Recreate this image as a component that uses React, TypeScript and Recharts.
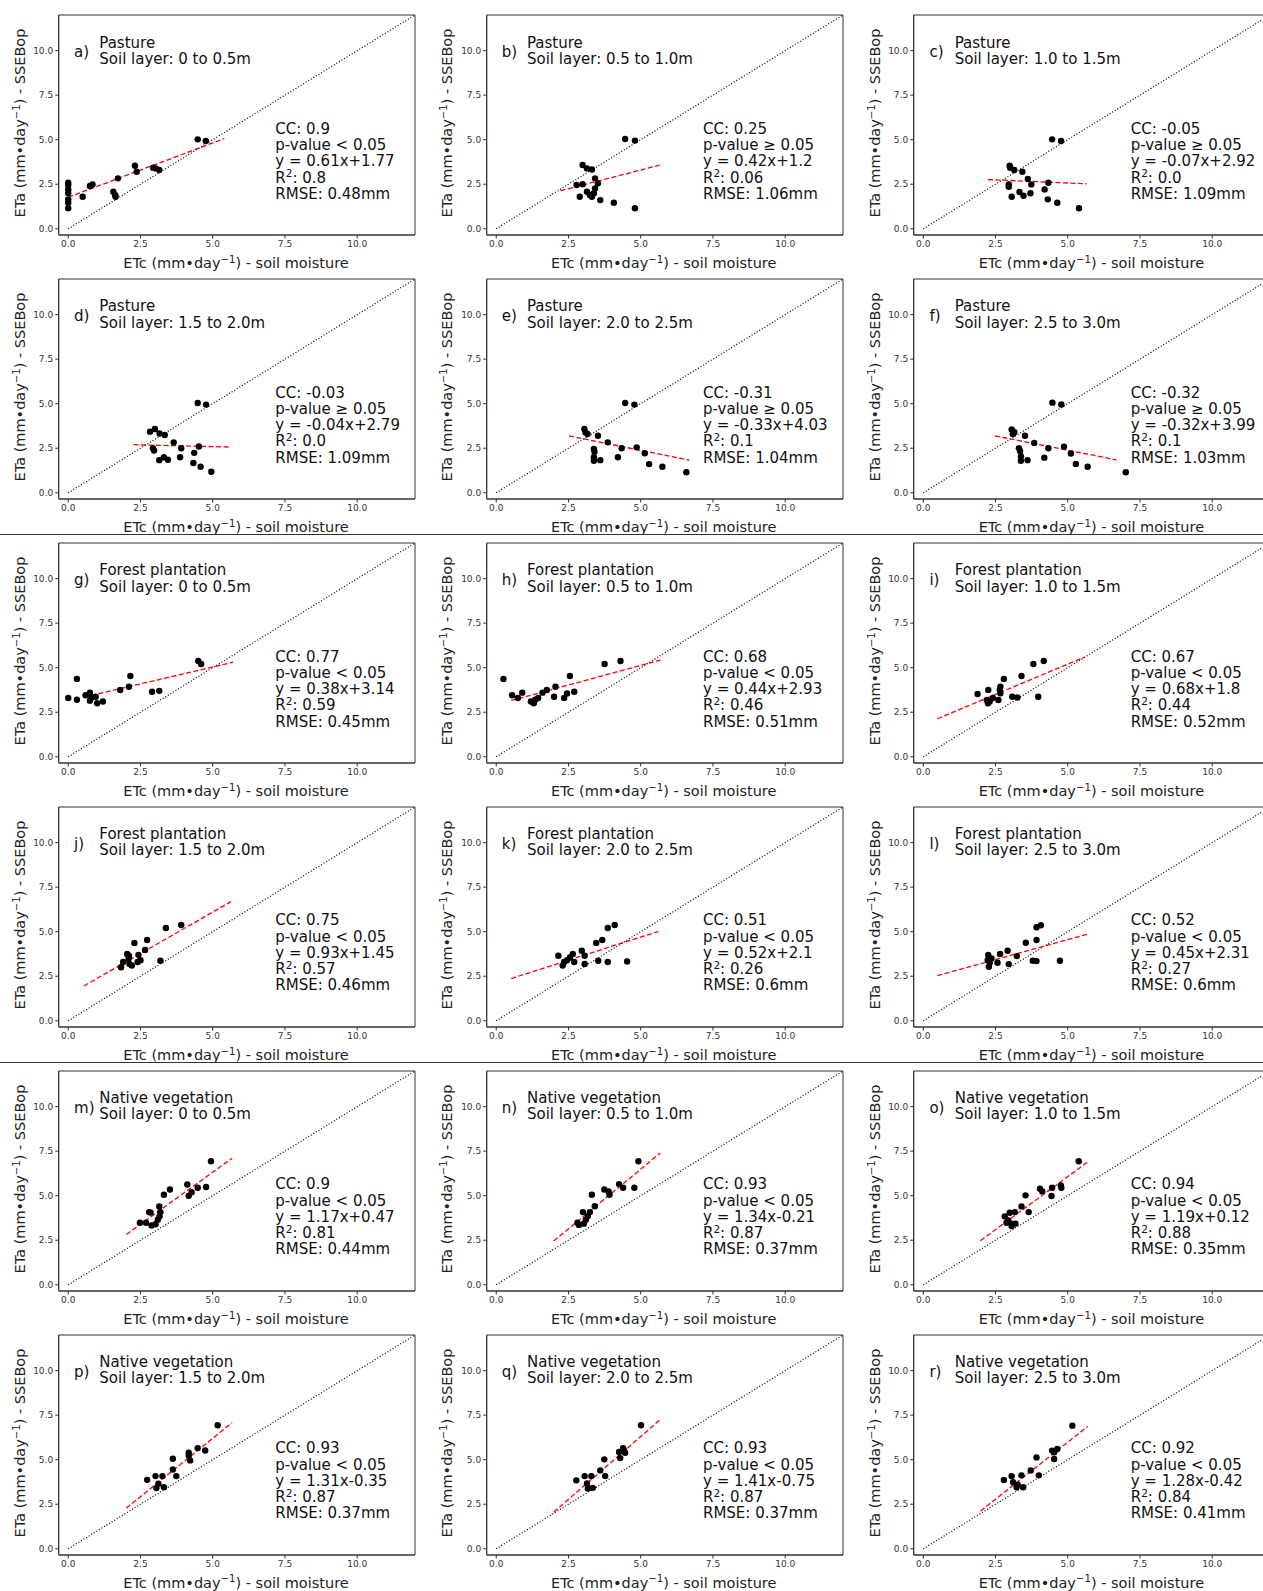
import React from "react";
import { ScatterChart, Scatter, XAxis, YAxis, ReferenceLine, ReferenceArea } from "recharts";

// panel labels
const LETTERS = ["a", "b", "c", "d", "e", "f", "g", "h", "i", "j", "k", "l", "m", "n", "o", "p", "q", "r"];
const COVERS = ["Pasture", "Forest plantation", "Native vegetation"];
const LAYERS = ["0 to 0.5m", "0.5 to 1.0m", "1.0 to 1.5m", "1.5 to 2.0m", "2.0 to 2.5m", "2.5 to 3.0m"];
const TICKS = [0, 2.5, 5, 7.5, 10];

// statistics printed in each panel
const CC = ["0.9", "0.25", "-0.05", "-0.03", "-0.31", "-0.32", "0.77", "0.68", "0.67", "0.75", "0.51", "0.52", "0.9", "0.93", "0.94", "0.93", "0.93", "0.92"];
const SIGNIFICANT = [true, false, false, false, false, false, true, true, true, true, true, true, true, true, true, true, true, true];
const SLOPES = [0.61, 0.42, -0.07, -0.04, -0.33, -0.32, 0.38, 0.44, 0.68, 0.93, 0.52, 0.45, 1.17, 1.34, 1.19, 1.31, 1.41, 1.28];
const INTERCEPTS = [1.77, 1.2, 2.92, 2.79, 4.03, 3.99, 3.14, 2.93, 1.8, 1.45, 2.1, 2.31, 0.47, -0.21, 0.12, -0.35, -0.75, -0.42];
const R2 = ["0.8", "0.06", "0.0", "0.0", "0.1", "0.1", "0.59", "0.46", "0.44", "0.57", "0.26", "0.27", "0.81", "0.87", "0.88", "0.87", "0.87", "0.84"];
const RMSE = ["0.48", "1.06", "1.09", "1.09", "1.04", "1.03", "0.45", "0.51", "0.52", "0.46", "0.6", "0.6", "0.44", "0.37", "0.35", "0.37", "0.37", "0.41"];
// x extent of the fitted line
const FIT_X0 = [0, 2.23, 2.24, 2.26, 2.52, 2.48, 0.54, 0.52, 0.49, 0.54, 0.52, 0.49, 2.01, 1.99, 1.98, 2.01, 1.99, 1.98];
const FIT_X1 = [5.4, 5.65, 5.66, 5.63, 6.68, 6.69, 5.7, 5.68, 5.59, 5.63, 5.61, 5.69, 5.67, 5.68, 5.69, 5.67, 5.68, 5.69];

// [ETc, ETa] pairs
const PA = [[0, 2.58], [0, 2.45], [0, 2.21], [0, 2.0], [0, 1.65], [0, 1.46], [0, 1.15], [0.5, 1.8], [0.75, 2.4], [0.84, 2.49], [1.56, 2.08], [1.62, 1.9], [1.64, 1.8], [1.72, 2.83], [2.31, 3.54], [2.37, 3.2], [2.94, 3.43], [3.03, 3.39], [3.15, 3.3], [4.48, 5.02], [4.76, 4.93]];
const PB = [[4.46, 5.04], [4.8, 4.95], [2.99, 3.58], [3.14, 3.39], [3.31, 3.33], [3.42, 2.83], [2.78, 2.46], [2.99, 2.5], [3.52, 2.55], [3.42, 2.27], [2.89, 1.8], [3.14, 2.08], [3.24, 1.9], [3.38, 2.0], [3.31, 1.8], [3.6, 1.61], [4.07, 1.46], [4.8, 1.15]];
const PC = [[4.46, 5.02], [4.77, 4.93], [2.99, 3.54], [3.01, 3.43], [3.15, 3.3], [3.43, 3.2], [3.62, 2.79], [4.33, 2.58], [3.74, 2.49], [2.96, 2.49], [2.96, 2.36], [3.33, 2.06], [3.06, 1.8], [3.47, 1.85], [3.71, 1.99], [4.2, 2.21], [4.31, 1.65], [4.64, 1.46], [5.39, 1.15]];
const PD = [[4.48, 5.04], [4.77, 4.95], [2.83, 3.43], [3.0, 3.58], [3.16, 3.33], [3.34, 3.24], [3.65, 2.83], [2.93, 2.5], [2.97, 2.37], [3.91, 2.5], [4.52, 2.6], [4.36, 2.24], [3.87, 1.99], [3.15, 1.83], [3.45, 1.85], [3.31, 1.99], [4.33, 1.67], [4.58, 1.46], [4.95, 1.18]];
const PE = [[4.46, 5.04], [4.78, 4.95], [3.05, 3.58], [3.09, 3.39], [3.16, 3.3], [3.52, 3.2], [3.86, 2.83], [3.38, 2.46], [4.34, 2.5], [4.86, 2.55], [5.14, 2.22], [4.21, 1.99], [3.38, 2.0], [3.38, 1.8], [3.6, 1.83], [5.29, 1.61], [5.75, 1.46], [6.58, 1.15], [3.4, 2.3]];
const PF = [[4.47, 5.06], [4.78, 4.96], [3.06, 3.55], [3.15, 3.4], [3.1, 3.3], [3.52, 3.2], [3.84, 2.8], [3.31, 2.5], [3.35, 2.35], [4.33, 2.5], [4.87, 2.58], [5.11, 2.2], [4.19, 1.97], [3.38, 2.05], [3.38, 1.8], [3.61, 1.83], [5.28, 1.62], [5.69, 1.46], [7.01, 1.15]];
const PG = [[0, 3.3], [0.3, 3.2], [0.3, 4.37], [0.6, 3.45], [0.75, 3.6], [0.8, 3.3], [0.75, 3.15], [0.95, 3.37], [1.0, 3.0], [1.2, 3.1], [1.8, 3.75], [2.1, 3.93], [2.15, 4.53], [2.9, 3.65], [3.15, 3.7], [4.5, 5.38], [4.6, 5.21]];
const PH = [[0.25, 4.37], [0.55, 3.45], [0.75, 3.3], [0.9, 3.6], [1.2, 3.1], [1.3, 3.0], [1.35, 3.2], [1.45, 3.3], [1.6, 3.6], [1.75, 3.75], [2.0, 3.37], [2.05, 3.93], [2.35, 3.3], [2.45, 3.55], [2.55, 4.53], [2.7, 3.65], [3.75, 5.21], [4.3, 5.38]];
const PI = [[3.81, 5.21], [4.17, 5.38], [2.79, 4.37], [3.4, 4.53], [2.67, 3.93], [2.65, 3.75], [2.25, 3.75], [1.88, 3.52], [2.2, 3.19], [2.24, 3.0], [2.41, 3.3], [2.6, 3.19], [2.67, 3.56], [3.08, 3.37], [3.26, 3.33], [3.98, 3.37], [2.3, 3.1]];
const PJ = [[3.38, 5.21], [3.91, 5.38], [2.29, 4.37], [2.73, 4.53], [2.66, 3.97], [2.43, 3.7], [2.04, 3.75], [2.1, 3.65], [1.83, 3.0], [1.9, 3.3], [2.12, 3.19], [2.4, 3.3], [2.5, 3.4], [3.19, 3.37], [2.09, 3.5], [2.2, 3.1]];
const PK = [[2.15, 3.65], [2.3, 3.1], [2.35, 3.3], [2.45, 3.4], [2.55, 3.55], [2.65, 3.75], [2.7, 3.3], [2.96, 3.93], [3.06, 3.65], [3.06, 3.19], [3.46, 4.37], [3.67, 4.53], [3.53, 3.37], [3.86, 5.21], [4.1, 5.38], [3.86, 3.3], [4.53, 3.33]];
const PL = [[3.92, 5.25], [4.07, 5.36], [3.55, 4.38], [3.92, 4.53], [2.66, 3.75], [2.92, 3.93], [2.25, 3.69], [3.24, 3.63], [2.23, 3.41], [2.36, 3.5], [2.57, 3.26], [2.27, 3.03], [2.96, 3.18], [3.79, 3.37], [3.92, 3.35], [4.73, 3.37], [2.3, 3.25]];
const PM = [[4.94, 6.93], [3.52, 5.35], [3.31, 5.05], [4.12, 5.63], [4.48, 5.45], [4.77, 5.49], [4.17, 4.99], [4.27, 5.19], [3.15, 4.4], [3.19, 4.08], [3.16, 3.84], [2.8, 4.08], [2.48, 3.48], [2.69, 3.48], [2.88, 3.33], [3.02, 3.4], [3.1, 3.65], [2.85, 4.05]];
const PN = [[4.92, 6.93], [4.39, 5.45], [4.78, 5.45], [4.25, 5.65], [3.74, 5.35], [3.89, 5.24], [3.92, 5.05], [3.31, 5.05], [3.41, 4.41], [3.24, 4.08], [3.17, 3.86], [3.0, 4.08], [2.81, 3.48], [2.86, 3.36], [3.03, 3.43], [3.1, 3.65]];
const PO = [[5.38, 6.93], [4.04, 5.39], [4.12, 5.24], [4.46, 5.45], [4.76, 5.58], [4.78, 5.45], [4.44, 4.98], [3.54, 5.02], [3.4, 4.4], [3.65, 4.08], [2.82, 3.84], [2.99, 4.04], [3.17, 4.08], [2.94, 3.61], [3.06, 3.43], [3.19, 3.43], [2.88, 3.48], [3.06, 3.3]];
const PP = [[5.17, 6.93], [4.17, 5.39], [4.17, 5.24], [4.48, 5.65], [4.74, 5.52], [4.22, 4.96], [3.62, 5.05], [3.62, 4.45], [3.74, 4.08], [2.73, 3.87], [3.02, 4.08], [3.26, 4.08], [3.12, 3.65], [3.05, 3.41], [3.31, 3.46]];
const PQ = [[5.01, 6.93], [4.39, 5.65], [4.25, 5.43], [4.29, 5.09], [4.42, 5.52], [4.46, 5.39], [3.74, 5.02], [3.6, 4.4], [3.77, 4.08], [2.77, 3.84], [3.06, 4.08], [3.29, 4.08], [3.14, 3.66], [3.17, 3.38], [3.34, 3.42]];
const PR = [[5.16, 6.91], [4.46, 5.51], [4.64, 5.6], [4.53, 5.42], [4.53, 5.04], [3.92, 5.13], [3.72, 4.4], [3.4, 4.12], [3.06, 4.08], [2.79, 3.86], [4.0, 4.12], [3.11, 3.73], [3.23, 3.45], [3.46, 3.45], [3.27, 3.6]];

const POINTS = [PA, PB, PC, PD, PE, PF, PG, PH, PI, PJ, PK, PL, PM, PN, PO, PP, PQ, PR];

const COL_W = 427.7;
const ROW_H = 263.9;
const FONT = "'DejaVu Sans', sans-serif";
const X_DOMAIN = [-0.33, 12];
const Y_DOMAIN = [-0.35, 12];

const dot = (p: any) => <circle cx={p.cx} cy={p.cy} r={3.2} fill="#000" />;

// raised small text that stays inside its line box
const Sup = ({ children }: { children: React.ReactNode }) => (
  <span style={{ fontSize: "0.7em", position: "relative", top: "-0.5em", lineHeight: 0 }}>{children}</span>
);

function fmtEq(i: number) {
  const b = INTERCEPTS[i];
  return `y = ${SLOPES[i]}x${b >= 0 ? "+" : ""}${b}`;
}

function Panel({ i }: { i: number }) {
  const col = i % 3;
  const row = Math.floor(i / 3);
  const data = POINTS[i].map(([x, y]) => ({ x, y }));
  const fit = [
    { x: FIT_X0[i], y: SLOPES[i] * FIT_X0[i] + INTERCEPTS[i] },
    { x: FIT_X1[i], y: SLOPES[i] * FIT_X1[i] + INTERCEPTS[i] },
  ];
  const tick = { fontSize: 9, fill: "#333", fontFamily: FONT };
  return (
    <div style={{ position: "absolute", left: col * COL_W, top: row * ROW_H, width: 428, height: 264 }}>
      <ScatterChart width={428} height={264} margin={{ top: 15, right: 13, bottom: 9, left: 18.7 }}>
        <XAxis type="number" dataKey="x" domain={X_DOMAIN} ticks={TICKS} allowDataOverflow
          tickFormatter={(v: number) => v.toFixed(1)} tick={tick} tickSize={3.5} height={20}
          stroke="#333" interval={0} />
        <YAxis type="number" dataKey="y" domain={Y_DOMAIN} ticks={TICKS} allowDataOverflow
          tickFormatter={(v: number) => v.toFixed(1)} tick={tick} tickSize={3.5} width={40}
          stroke="#333" interval={0} />
        <ReferenceArea x1={X_DOMAIN[0]} x2={X_DOMAIN[1]} y1={Y_DOMAIN[0]} y2={Y_DOMAIN[1]}
          fill="none" stroke="#333" strokeWidth={1} />
        <ReferenceLine segment={[{ x: 0, y: 0 }, { x: 12, y: 12 }]} stroke="#000" strokeWidth={1.2}
          strokeDasharray="1 2" />
        <ReferenceLine segment={fit} stroke="#ff0000" strokeWidth={1.3} strokeDasharray="5 2.5" />
        <Scatter data={data} shape={dot} isAnimationActive={false} />
      </ScatterChart>
      <div style={{ position: "absolute", left: 74, top: 44, fontSize: 15, lineHeight: "16.3px", color: "#111" }}>
        {LETTERS[i]})
      </div>
      <div style={{ position: "absolute", left: 99.3, top: 34.5, fontSize: 15, lineHeight: "16.3px", color: "#111", whiteSpace: "nowrap" }}>
        <div>{COVERS[Math.floor(i / 6)]}</div>
        <div>Soil layer: {LAYERS[i % 6]}</div>
      </div>
      <div style={{ position: "absolute", left: 275.3, top: 120.8, fontSize: 15, lineHeight: "16.25px", color: "#111", whiteSpace: "nowrap" }}>
        <div>CC: {CC[i]}</div>
        <div>p-value {SIGNIFICANT[i] ? "<" : "≥"} 0.05</div>
        <div>{fmtEq(i)}</div>
        <div>R<Sup>2</Sup>: {R2[i]}</div>
        <div>RMSE: {RMSE[i]}mm</div>
      </div>
      <div style={{ position: "absolute", left: 236, top: 263, transform: "translate(-50%, -50%)", fontSize: 14.5, lineHeight: "17px", color: "#222", whiteSpace: "nowrap" }}>
        ETc (mm•day<Sup>−1</Sup>) - soil moisture
      </div>
      <div style={{ position: "absolute", left: 19.5, top: 123, transform: "translate(-50%, -50%) rotate(-90deg)", fontSize: 14.5, lineHeight: "17px", color: "#222", whiteSpace: "nowrap" }}>
        ETa (mm•day<Sup>−1</Sup>) - SSEBop
      </div>
    </div>
  );
}

export default function App() {
  return (
    <div style={{ position: "absolute", left: 0, top: 0, width: 1263, height: 1591, background: "#fff", fontFamily: FONT }}>
      {LETTERS.map((_, i) => <Panel key={i} i={i} />)}
      <div style={{ position: "absolute", left: 0, top: 533.6, width: 1263, height: 1.5, background: "#333" }} />
      <div style={{ position: "absolute", left: 0, top: 1061.5, width: 1263, height: 1.5, background: "#333" }} />
    </div>
  );
}
